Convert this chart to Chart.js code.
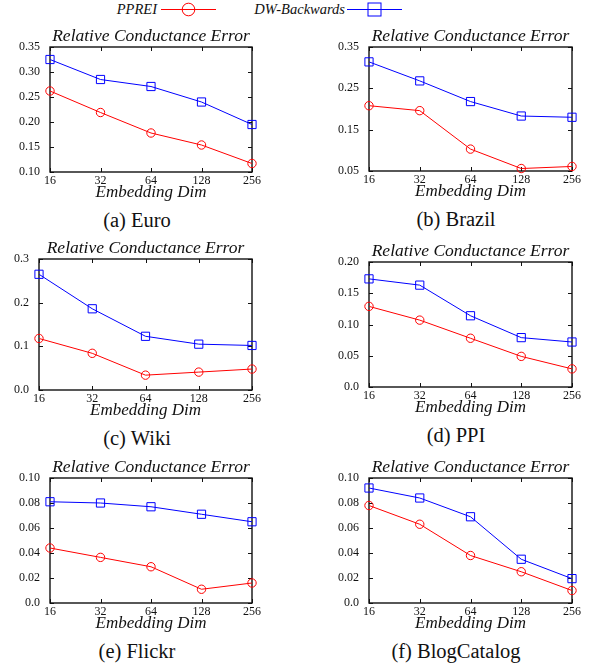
<!DOCTYPE html>
<html>
<head>
<meta charset="utf-8">
<script src="https://cdn.jsdelivr.net/npm/chart.js@4.4.0/dist/chart.umd.min.js"></script>
<style>
  body {
    margin: 0;
    width: 595px;
    height: 671px;
    position: relative;
    overflow: hidden;
    background: #fff;
    font-family: "Liberation Serif", "DejaVu Serif", serif;
    color: #111;
  }
  canvas { position: absolute; }
  .cap {
    position: absolute;
    font-size: 20.5px;
    line-height: 20px;
    transform: translateX(-50%);
    white-space: nowrap;
  }
  .leg {
    position: absolute;
    top: 1px;
    font-size: 14.5px;
    line-height: 17px;
    font-style: italic;
    white-space: nowrap;
  }
  svg { position: absolute; top: 1px; }
</style>
</head>
<body>

<span class="leg" style="right:438px">PPREI</span>
<svg style="left:161px" width="55" height="17">
  <line x1="0" y1="8.5" x2="55" y2="8.5" stroke="#ff0000" stroke-width="1"/>
  <circle cx="27.5" cy="8.5" r="6.3" stroke="#ff0000" stroke-width="1" fill="none"/>
</svg>
<span class="leg" style="right:250px">DW-Backwards</span>
<svg style="left:347px" width="55" height="17">
  <line x1="0" y1="8.5" x2="55" y2="8.5" stroke="#0000ff" stroke-width="1"/>
  <rect x="21" y="2" width="13" height="13" stroke="#0000ff" stroke-width="1" fill="none"/>
</svg>

<script>
// x categories (log2 spaced embedding dims)
const dims = ["16", "32", "64", "128", "256"];

// (a) Euro
const euroTicks = ["0.10", "0.15", "0.20", "0.25", "0.30", "0.35"];
const euroPPREI = [0.262, 0.219, 0.178, 0.154, 0.117];
const euroDW = [0.325, 0.285, 0.271, 0.240, 0.195];

// (b) Brazil
const brazilTicks = ["0.05", "0.15", "0.25", "0.35"];
const brazilPPREI = [0.208, 0.196, 0.103, 0.056, 0.061];
const brazilDW = [0.314, 0.268, 0.218, 0.183, 0.180];

// (c) Wiki
const wikiTicks = ["0.0", "0.1", "0.2", "0.3"];
const wikiPPREI = [0.118, 0.084, 0.034, 0.041, 0.048];
const wikiDW = [0.265, 0.186, 0.123, 0.105, 0.102];

// (d) PPI
const ppiTicks = ["0.0", "0.05", "0.10", "0.15", "0.20"];
const ppiPPREI = [0.129, 0.107, 0.078, 0.049, 0.029];
const ppiDW = [0.173, 0.163, 0.114, 0.079, 0.072];

// (e) Flickr
const flickrTicks = ["0.0", "0.02", "0.04", "0.06", "0.08", "0.10"];
const flickrPPREI = [0.044, 0.0365, 0.029, 0.011, 0.016];
const flickrDW = [0.081, 0.080, 0.077, 0.071, 0.065];

// (f) BlogCatalog
const blogTicks = ["0.0", "0.02", "0.04", "0.06", "0.08", "0.10"];
const blogPPREI = [0.078, 0.063, 0.038, 0.025, 0.010];
const blogDW = [0.092, 0.084, 0.069, 0.035, 0.0195];

const ink = "#111";
const serif = "'Liberation Serif', 'DejaVu Serif', serif";

// plot box (page px) of each panel, caption centre
const panels = [
  { cap: "(a) Euro", ticks: euroTicks, ppre: euroPPREI, dw: euroDW, box: [50, 47, 252, 172], capX: 137 },
  { cap: "(b) Brazil", ticks: brazilTicks, ppre: brazilPPREI, dw: brazilDW, box: [369, 47, 572, 171], capX: 456 },
  { cap: "(c) Wiki", ticks: wikiTicks, ppre: wikiPPREI, dw: wikiDW, box: [39, 259, 252, 390], capX: 137 },
  { cap: "(d) PPI", ticks: ppiTicks, ppre: ppiPPREI, dw: ppiDW, box: [369, 262, 572, 387], capX: 456 },
  { cap: "(e) Flickr", ticks: flickrTicks, ppre: flickrPPREI, dw: flickrDW, box: [50, 478, 252, 603], capX: 137 },
  { cap: "(f) BlogCatalog", ticks: blogTicks, ppre: blogPPREI, dw: blogDW, box: [369, 478, 572, 603], capX: 456 },
];

// box frame + inward mirrored tick marks
const frame = {
  id: "frame",
  beforeDatasetsDraw(chart) {
    const { ctx, chartArea: a, scales: { x, y } } = chart;
    ctx.save();
    ctx.strokeStyle = ink;
    ctx.lineWidth = 1;
    ctx.beginPath();
    y.ticks.forEach((t, i) => {
      const py = Math.round(y.getPixelForTick(i)) + 0.5;
      ctx.moveTo(a.left, py); ctx.lineTo(a.left + 4, py);
      ctx.moveTo(a.right, py); ctx.lineTo(a.right - 4, py);
    });
    x.ticks.forEach((t, i) => {
      const px = Math.round(x.getPixelForTick(i)) + 0.5;
      ctx.moveTo(px, a.bottom); ctx.lineTo(px, a.bottom - 4);
      ctx.moveTo(px, a.top); ctx.lineTo(px, a.top + 4);
    });
    ctx.stroke();
    ctx.lineWidth = 1.4;
    ctx.strokeRect(a.left, a.top, a.right - a.left, a.bottom - a.top);
    ctx.restore();
  },
};

panels.forEach((p) => {
  const [l, t, r, b] = p.box;
  const cv = document.createElement("canvas");
  cv.width = r - l + 70;
  cv.height = b - t + 63;
  cv.style.left = (l - 50) + "px";
  cv.style.top = (t - 28) + "px";
  document.body.appendChild(cv);

  const cap = document.createElement("div");
  cap.className = "cap";
  cap.textContent = p.cap;
  cap.style.left = p.capX + "px";
  cap.style.top = (b + 38) + "px";
  document.body.appendChild(cap);

  new Chart(cv, {
    type: "line",
    data: {
      labels: dims,
      datasets: [
        {
          label: "PPREI",
          data: p.ppre,
          borderColor: "#ff0000",
          borderWidth: 1,
          pointStyle: "circle",
          pointRadius: 4.2,
          pointBorderWidth: 1,
          pointBorderColor: "#ff0000",
          pointBackgroundColor: "rgba(0,0,0,0)",
          tension: 0,
          clip: false,
        },
        {
          label: "DW-Backwards",
          data: p.dw,
          borderColor: "#0000ff",
          borderWidth: 1,
          pointStyle: "rect",
          pointRadius: 5.8,
          pointBorderWidth: 1,
          pointBorderColor: "#0000ff",
          pointBackgroundColor: "rgba(0,0,0,0)",
          tension: 0,
          clip: false,
        },
      ],
    },
    options: {
      responsive: false,
      animation: false,
      devicePixelRatio: 1,
      layout: { padding: { left: 0, right: 20, top: 0, bottom: 0 } },
      plugins: {
        legend: { display: false },
        tooltip: { enabled: false },
        title: {
          display: true,
          text: "Relative Conductance Error",
          fullSize: false,
          color: ink,
          font: { family: serif, size: 17.5, style: "italic", weight: "normal", lineHeight: 1.2 },
          padding: { top: 7, bottom: 0 },
        },
      },
      scales: {
        x: {
          type: "category",
          offset: false,
          grid: { display: false, drawTicks: false },
          border: { display: false },
          ticks: {
            color: ink,
            font: { family: serif, size: 12 },
            padding: 2,
            maxRotation: 0,
            autoSkip: false,
          },
          title: {
            display: true,
            text: "Embedding Dim",
            color: ink,
            font: { family: serif, size: 17, style: "italic", lineHeight: 1.2 },
            padding: { top: 0, bottom: 3.8 },
          },
          afterFit: (s) => { s.height = 35; },
        },
        y: {
          min: parseFloat(p.ticks[0]),
          max: parseFloat(p.ticks[p.ticks.length - 1]),
          grid: { display: false, drawTicks: false },
          border: { display: false },
          ticks: {
            color: ink,
            font: { family: serif, size: 12 },
            padding: 10,
            callback: (v, i) => p.ticks[i],
          },
          afterBuildTicks: (s) => {
            s.ticks = p.ticks.map((tk) => ({ value: parseFloat(tk) }));
          },
          afterFit: (s) => { s.width = 50; },
        },
      },
    },
    plugins: [frame],
  });
});
</script>
</body>
</html>
